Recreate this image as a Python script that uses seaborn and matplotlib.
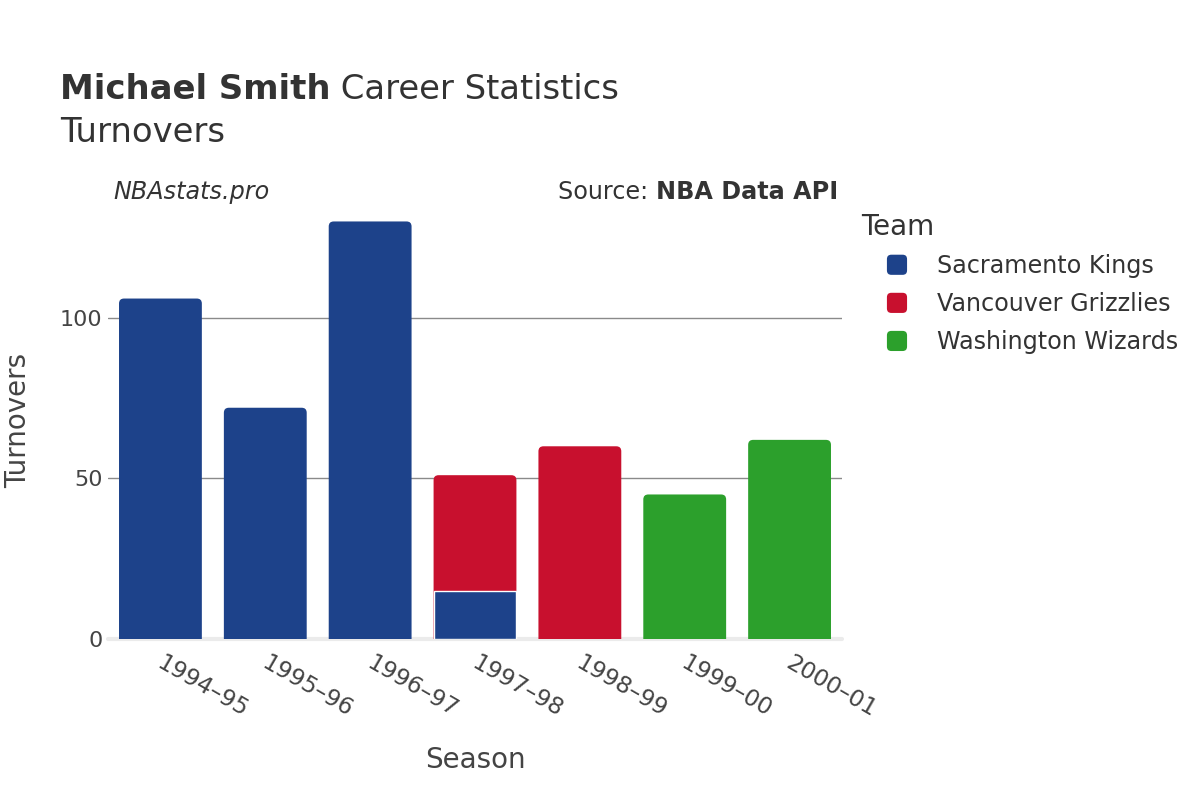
import matplotlib
matplotlib.use("Agg")
import matplotlib.pyplot as plt
import matplotlib.transforms as mtransforms
import seaborn as sns
import pandas as pd
from matplotlib.patches import FancyBboxPatch, Rectangle, Patch
from matplotlib.legend_handler import HandlerPatch

# ---- data ----
season_order = ["1994–95", "1995–96", "1996–97", "1997–98", "1998–99", "1999–00", "2000–01"]
seasons = ["1994–95", "1995–96", "1996–97", "1997–98", "1997–98", "1998–99", "1999–00", "2000–01"]
teams = ["Sacramento Kings", "Sacramento Kings", "Sacramento Kings", "Sacramento Kings",
         "Vancouver Grizzlies", "Vancouver Grizzlies", "Washington Wizards", "Washington Wizards"]
turnovers = [106, 72, 130, 15, 36, 60, 45, 62]
team_order = ["Sacramento Kings", "Vancouver Grizzlies", "Washington Wizards"]
team_colors = ["#1D428A", "#C8102E", "#2CA02C"]

df = pd.DataFrame({"Season": seasons, "Team": teams, "Turnovers": turnovers})
df["Team"] = pd.Categorical(df["Team"], categories=team_order, ordered=True)
df = df.sort_values(["Season", "Team"])
df["Top"] = df.groupby("Season")["Turnovers"].cumsum()
totals = df.groupby("Season")["Turnovers"].sum()

TXT = "#444444"
DARK = "#333333"

sns.set_theme(style="white")
plt.rcParams["font.family"] = ["DejaVu Sans"]

fig = plt.figure(figsize=(12, 8), dpi=100)
ax = fig.add_axes([108 / 1200, 1 - 639 / 800, (842 - 108) / 1200, (639 - 207) / 800])

palette = dict(zip(team_order, team_colors))
sns.barplot(data=df, x="Season", y="Top", hue="Team", order=season_order,
            hue_order=team_order[::-1], palette=palette, dodge=False,
            width=0.79, legend=False, ax=ax, saturation=1, linewidth=0)

ax.set_xlim(-0.5, len(season_order) - 0.5)
ax.set_ylim(0, 134.5)

# convert bars to rounded-top bars
fig.canvas.draw()
px_x = ax.transData.transform((1, 0))[0] - ax.transData.transform((0, 0))[0]
px_y = ax.transData.transform((0, 1))[1] - ax.transData.transform((0, 0))[1]
aspect = px_x / px_y
r = 5 / px_x
patches = list(ax.patches)
for p in patches:
    h = p.get_height()
    if not (h > 0):
        p.remove()
        continue
    x0, w = p.get_x(), p.get_width()
    idx = int(round(x0 + w / 2))
    fc = p.get_facecolor()
    p.remove()
    if abs(h - totals[season_order[idx]]) < 1e-6:
        ry = r * aspect
        fb = FancyBboxPatch((x0, -ry), w, h + ry,
                            boxstyle=f"round,pad=0,rounding_size={r}",
                            mutation_aspect=aspect, facecolor=fc, edgecolor="none",
                            zorder=2)
        ax.add_patch(fb)
    else:
        rect = Rectangle((x0, 0), w, h, facecolor=fc, edgecolor="white",
                         linewidth=1.0, zorder=3)
        ax.add_patch(rect)

# axes styling
for s in ax.spines.values():
    s.set_visible(False)
ax.set_yticks([0, 50, 100])
ax.set_axisbelow(True)
ax.yaxis.grid(True, color="#8a8a8a", linewidth=1)
gl = ax.yaxis.get_gridlines()
gl[0].set_color("#ebebeb")
gl[0].set_linewidth(3)
gl[0].set_clip_on(False)
ax.tick_params(axis="both", length=0, labelcolor=TXT)
ax.tick_params(axis="y", pad=4, labelsize=16)
ax.tick_params(axis="x", pad=9, labelsize=16.8)
offset = mtransforms.ScaledTranslation(4 / 100, 0, fig.dpi_scale_trans)
for lbl in ax.get_xticklabels():
    lbl.set_rotation(-30)
    lbl.set_ha("left")
    lbl.set_va("top")
    lbl.set_rotation_mode("anchor")
    lbl.set_transform(lbl.get_transform() + offset)
ax.set_xlabel("")
ax.set_ylabel("")

fig.text(475 / 1200, 1 - 760 / 800, "Season", ha="center", va="center", fontsize=20, color=TXT)
fig.text(18 / 1200, 1 - 420 / 800, "Turnovers", ha="center", va="center", rotation=90,
         fontsize=20, color=TXT)

# titles
renderer = fig.canvas.get_renderer()
t1 = fig.text(60 / 1200, 1 - 89.5 / 800, "Michael Smith", ha="left", va="center",
              fontsize=24.4, fontweight="bold", color=DARK)
bb = t1.get_window_extent(renderer)
fig.text(bb.x1 / 1200, 1 - 89.5 / 800, " Career Statistics", ha="left", va="center",
         fontsize=24.4, color=DARK)
fig.text(60 / 1200, 1 - 132.5 / 800, "Turnovers", ha="left", va="center", fontsize=24.4, color=DARK)

fig.text(113 / 1200, 1 - 192 / 800, "NBAstats.pro", ha="left", va="center", fontsize=17.2,
         style="italic", color=DARK)
t2 = fig.text(838 / 1200, 1 - 192 / 800, "NBA Data API", ha="right", va="center",
              fontsize=17.2, fontweight="bold", color=DARK)
bb2 = t2.get_window_extent(renderer)
fig.text(bb2.x0 / 1200, 1 - 192 / 800, "Source: ", ha="right", va="center", fontsize=17.2,
         color=DARK)

# legend
class RoundHandler(HandlerPatch):
    def create_artists(self, legend, orig_handle, xdescent, ydescent, width, height,
                       fontsize, trans):
        s = min(width, height)
        x0 = -xdescent + (width - s) / 2
        y0 = -ydescent + (height - s) / 2
        p = FancyBboxPatch((x0, y0), s, s, boxstyle=f"round,pad=0,rounding_size={s * 0.22}",
                           facecolor=orig_handle.get_facecolor(), edgecolor="none",
                           transform=trans)
        return [p]

fig.text(861 / 1200, 1 - 227 / 800, "Team", ha="left", va="center", fontsize=20, color=DARK)
handles = [Patch(facecolor=c, label=t) for t, c in zip(team_order, team_colors)]
leg = fig.legend(handles=handles, loc="upper left", bbox_to_anchor=(886 / 1200, 1 - 254 / 800),
                 frameon=False, fontsize=17.2, handlelength=0.92, handleheight=0.92,
                 handletextpad=1.2, labelspacing=0.59, borderpad=0, borderaxespad=0,
                 handler_map={Patch: RoundHandler()})
for t in leg.get_texts():
    t.set_color(DARK)

fig.savefig("out.png", dpi=100)
